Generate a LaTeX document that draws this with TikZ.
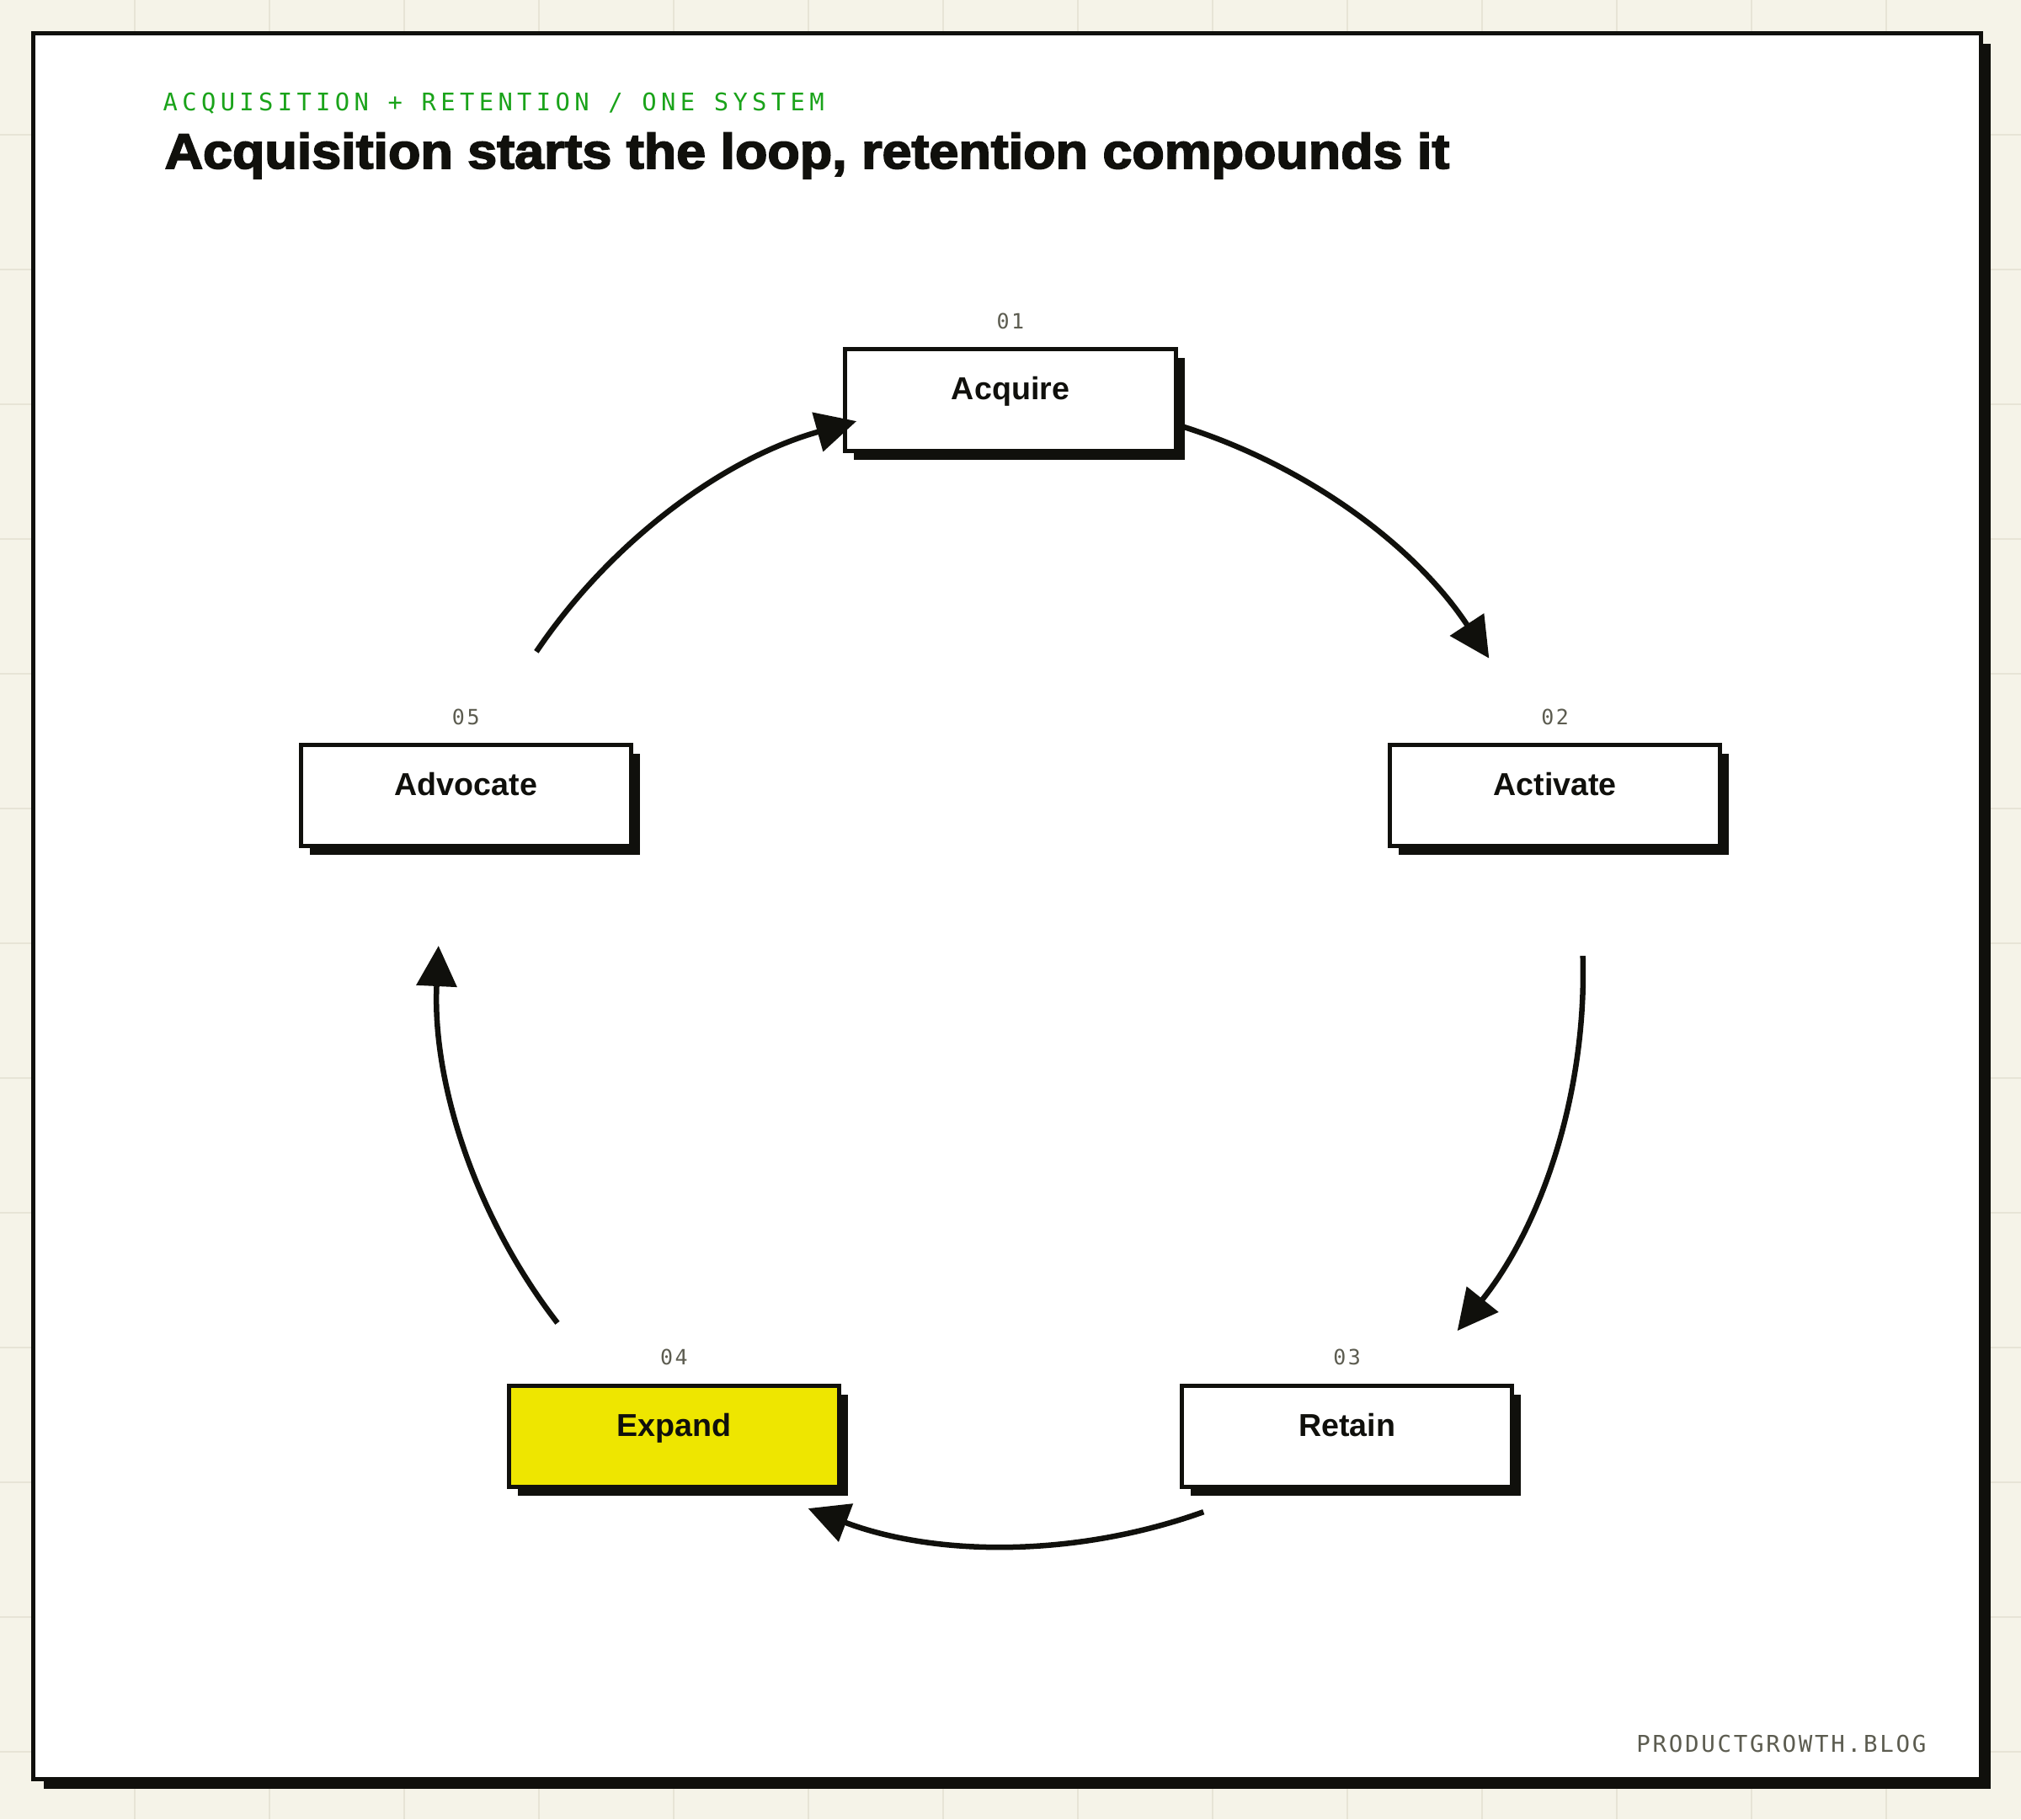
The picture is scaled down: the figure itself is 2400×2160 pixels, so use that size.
\documentclass[tikz,border=0pt]{standalone}
\usepackage{fontspec}
\setmainfont{Liberation Sans}
\newfontfamily\headfont{Liberation Sans Bold}[FakeBold=3,FakeStretch=1.07]
\newfontfamily\stagefont{Liberation Sans Bold}
\newfontfamily\eyebrowfont{DejaVu Sans Mono}[LetterSpace=18.5]
\newfontfamily\tagfont{DejaVu Sans Mono}[LetterSpace=10]
\usetikzlibrary{arrows.meta, positioning, shadows}
\definecolor{paper}{HTML}{F5F3E8}
\definecolor{gridc}{HTML}{E7E4D6}
\definecolor{ink}{HTML}{10100C}
\definecolor{hilite}{HTML}{EEE600}
\definecolor{eyebrow}{HTML}{1AA31A}
\definecolor{tagc}{HTML}{5C5C50}
\tikzset{
  stage/.style={draw=ink, line width=0.05cm, fill=white, text=ink,
    minimum width=3.92cm, minimum height=1.2cm, inner sep=0pt,
    text height=0.2cm, text depth=0.2cm,
    font=\stagefont\fontsize{10.7pt}{12pt}\selectfont,
    drop shadow={shadow xshift=0.105cm, shadow yshift=-0.105cm, opacity=1, fill=ink}},
  tag/.style={inner sep=0pt, text=tagc, font=\tagfont\fontsize{7.1pt}{8pt}\selectfont},
  flow/.style={->, draw=ink, line width=0.065cm},
}

\begin{document}
\begin{tikzpicture}[x=0.01cm, y=0.01cm, >={Triangle[length=0.48cm, width=0.47cm]}]
  % backdrop and grid
  \useasboundingbox (-1200,-1005) rectangle (1200,1155);
  \fill[paper] (-1200,-1005) rectangle (1200,1155);
  \foreach \gx in {160,320,...,2240}
    \draw[gridc, line width=0.02cm] ({\gx-1200},-1005) -- ({\gx-1200},1155);
  \foreach \gy in {160,320,...,2080}
    \draw[gridc, line width=0.02cm] (-1200,{1155-\gy}) -- (1200,{1155-\gy});
  % card
  \fill[ink] (-1148,1103) rectangle (1164,-969);
  \draw[ink, line width=0.05cm, fill=white] (-1160,1115) rectangle (1152,-957);
  % heading
  \node[anchor=base west, inner sep=0pt, text=eyebrow,
    font=\eyebrowfont\fontsize{8.2pt}{10pt}\selectfont] (kicker) at (-1007,1023)
    {ACQUISITION + RETENTION / ONE SYSTEM};
  \node[anchor=base west, inner sep=0pt, text=ink,
    font=\headfont\fontsize{16.7pt}{20pt}\selectfont] (title) at (-1005,955)
    {Acquisition starts the loop, retention compounds it};
  % the five stages
  \node[stage] (acq) at (90:680) {Acquire};
  \node[stage] (act) at (18:680) {Activate};
  \node[stage] (ret) at (-54:680) {Retain};
  \node[stage, fill=hilite] (exp) at (-126:680) {Expand};
  \node[stage] (adv) at (162:680) {Advocate};
  \node[tag, above=0.21cm of acq] (n1) {01};
  \node[tag, above=0.21cm of act] (n2) {02};
  \node[tag, above=0.21cm of ret] (n3) {03};
  \node[tag, above=0.21cm of exp] (n4) {04};
  \node[tag, above=0.21cm of adv] (n5) {05};
  % loop arrows
  \coordinate (o1) at (72.5:680);   \coordinate (i2) at (33.3:680);
  \coordinate (o2) at (1.7:680);    \coordinate (i3) at (-38.7:680);
  \coordinate (o3) at (-70.3:680);  \coordinate (i4) at (-110.7:680);
  \coordinate (o4) at (-142.3:680); \coordinate (i5) at (177.3:680);
  \coordinate (o5) at (145.9:680);  \coordinate (i1) at (105.6:680);
  \draw[flow] (o1) to[bend left=19.6, looseness=0.88] (i2);
  \draw[flow] (o2) to[bend left=20.2, looseness=0.88] (i3);
  \draw[flow] (o3) to[bend left=20.2, looseness=0.88] (i4);
  \draw[flow] (o4) to[bend left=20.2, looseness=0.88] (i5);
  \draw[flow] (o5) to[bend left=20.2, looseness=0.88] (i1);
  % footer
  \node[anchor=base east, inner sep=0pt, text=tagc,
    font=\tagfont\fontsize{7.8pt}{9pt}\selectfont] (site) at (1088,-925)
    {PRODUCTGROWTH.BLOG};
\end{tikzpicture}
\end{document}
